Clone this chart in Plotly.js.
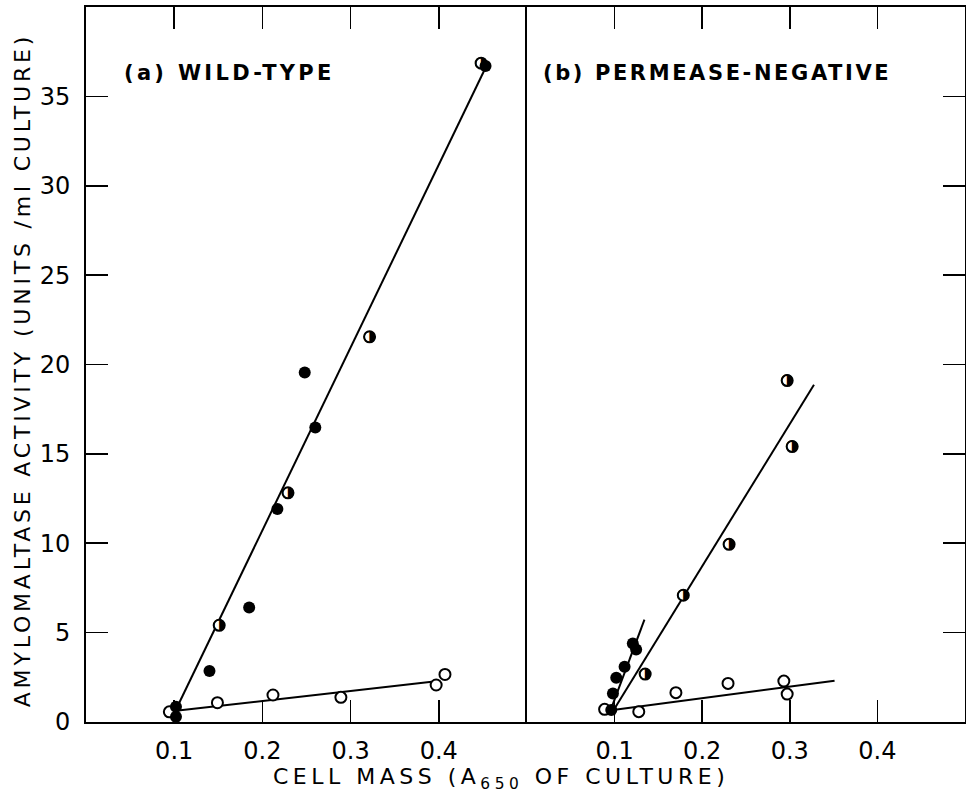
<!DOCTYPE html>
<html><head><meta charset="utf-8">
<script src="https://cdn.plot.ly/plotly-3.0.1.min.js"></script>
<style>html,body{margin:0;padding:0;background:#fff}#chart{width:966px;height:793px}</style>
</head><body><div id="chart"></div>
<script>
// ---- (a) wild-type ----
const wtFilledX = [0.102, 0.102, 0.140, 0.185, 0.217, 0.248, 0.260, 0.453];
const wtFilledY = [0.85, 0.30, 2.85, 6.40, 11.92, 19.55, 16.48, 36.7];
const wtHalfX = [0.151, 0.229, 0.3215, 0.448];
const wtHalfY = [5.41, 12.82, 21.55, 36.86];
const wtOpenX = [0.0945, 0.149, 0.212, 0.289, 0.397, 0.407];
const wtOpenY = [0.57, 1.08, 1.51, 1.38, 2.07, 2.66];
const wtSteepFitX = [0.103, 0.453];
const wtSteepFitY = [0.8, 36.6];
const wtFlatFitX = [0.102, 0.392];
const wtFlatFitY = [0.63, 2.25];
// ---- (b) permease-negative ----
const pnFilledX = [0.0962, 0.0981, 0.1019, 0.1114, 0.1208, 0.1246];
const pnFilledY = [0.67, 1.60, 2.47, 3.09, 4.39, 4.06];
const pnHalfX = [0.1349, 0.1784, 0.2307, 0.297, 0.3027];
const pnHalfY = [2.68, 7.09, 9.94, 19.1, 15.41];
const pnOpenX = [0.0886, 0.1276, 0.170, 0.2295, 0.2932, 0.297];
const pnOpenY = [0.71, 0.58, 1.64, 2.16, 2.29, 1.56];
const pnFilledFitX = [0.0962, 0.1341];
const pnFilledFitY = [0.76, 5.73];
const pnHalfFitX = [0.100, 0.3276];
const pnHalfFitY = [0.76, 18.87];
const pnFlatFitX = [0.0981, 0.3511];
const pnFlatFitY = [0.67, 2.31];
// ---- axes ----
const xTicks = [0.1, 0.2, 0.3, 0.4];
const xTickText = ['0.1', '0.2', '0.3', '0.4'];
const yTicks = [0, 5, 10, 15, 20, 25, 30, 35];
const yTickText = ['0', '5', '10', '15', '20', '25', '30', '35'];
const xTitle = 'CELL MASS (A<sub>650</sub> OF CULTURE)';
const yTitle = 'AMYLOMALTASE ACTIVITY (UNITS /ml CULTURE)';
const panelA = '(a) WILD-TYPE';
const panelB = '(b) PERMEASE-NEGATIVE';

const FONT = 'DejaVu Sans, sans-serif';
function lineTrace(x, y, xa, ya) {
  return {x, y, xaxis: xa, yaxis: ya, mode: 'lines', line: {color: '#000', width: 2}, hoverinfo: 'skip'};
}
function openTrace(x, y, xa, ya) {
  return {x, y, xaxis: xa, yaxis: ya, mode: 'markers',
    marker: {symbol: 'circle', size: 11, color: '#fff', line: {color: '#000', width: 2}}};
}
function filledTrace(x, y, xa, ya) {
  return {x, y, xaxis: xa, yaxis: ya, mode: 'markers',
    marker: {symbol: 'circle', size: 12, color: '#000', line: {color: '#000', width: 0}}};
}
function halfTrace(x, y, xa, ya) {
  return [
    {x, y, xaxis: xa, yaxis: ya, mode: 'markers',
      marker: {symbol: 'circle', size: 11, color: '#fff', line: {color: '#000', width: 2}}},
    {x, y, xaxis: xa, yaxis: ya, mode: 'text', text: x.map(() => '\u25D1'),
      textposition: 'middle center', textfont: {family: FONT, size: 15, color: '#000'}}
  ];
}
const data = [
  lineTrace(wtSteepFitX, wtSteepFitY, 'x', 'y'),
  lineTrace(wtFlatFitX, wtFlatFitY, 'x', 'y'),
  openTrace(wtOpenX, wtOpenY, 'x', 'y'),
  ...halfTrace(wtHalfX, wtHalfY, 'x', 'y'),
  filledTrace(wtFilledX, wtFilledY, 'x', 'y'),
  lineTrace(pnFilledFitX, pnFilledFitY, 'x2', 'y2'),
  lineTrace(pnHalfFitX, pnHalfFitY, 'x2', 'y2'),
  lineTrace(pnFlatFitX, pnFlatFitY, 'x2', 'y2'),
  openTrace(pnOpenX, pnOpenY, 'x2', 'y2'),
  ...halfTrace(pnHalfX, pnHalfY, 'x2', 'y2'),
  filledTrace(pnFilledX, pnFilledY, 'x2', 'y2')
];
const split = 0.5017;
const xCommon = {range: [0, 0.5], tickvals: xTicks, ticktext: xTickText, ticks: 'inside', ticklen: 22,
  tickwidth: 1.6, tickcolor: '#000', showline: true, linecolor: '#000', linewidth: 2, mirror: 'ticks',
  showgrid: false, zeroline: false, ticklabelstandoff: 6, tickfont: {family: FONT, size: 24, color: '#000'}};
const yCommon = {range: [0, 40], tickvals: yTicks, ticktext: yTickText, ticks: 'inside', ticklen: 22,
  tickwidth: 1.6, tickcolor: '#000', showline: true, linecolor: '#000', linewidth: 2,
  showgrid: false, zeroline: false, tickfont: {family: FONT, size: 24, color: '#000'}};
const layout = {
  width: 966, height: 793, showlegend: false,
  paper_bgcolor: '#fff', plot_bgcolor: '#fff',
  margin: {l: 86, r: 1, t: 7, b: 71},
  xaxis: Object.assign({}, xCommon, {domain: [0, split], anchor: 'y'}),
  xaxis2: Object.assign({}, xCommon, {domain: [split, 1], anchor: 'y2'}),
  yaxis: Object.assign({}, yCommon, {anchor: 'x', side: 'left', mirror: false, ticklabelstandoff: 9}),
  yaxis2: Object.assign({}, yCommon, {anchor: 'x2', side: 'right', mirror: true, showticklabels: false}),
  annotations: [
    {xref: 'paper', yref: 'paper', x: 0.472, y: -0.056, xanchor: 'center', yanchor: 'top', showarrow: false,
      text: '<span style="letter-spacing:4.5px">' + xTitle + '</span>', font: {family: FONT, size: 22, color: '#000'}},
    {xref: 'paper', yref: 'paper', x: -0.0728, y: 0.492, xanchor: 'center', yanchor: 'middle', showarrow: false,
      textangle: -90, text: '<span style="letter-spacing:3.8px">' + yTitle + '</span>', font: {family: FONT, size: 22, color: '#000'}},
    {xref: 'paper', yref: 'paper', x: 0.1627, y: 0.9077, xanchor: 'center', yanchor: 'middle', showarrow: false,
      text: '<span style="letter-spacing:3.3px">' + panelA + '</span>', font: {family: FONT, size: 21, color: '#000', weight: 'bold'}},
    {xref: 'paper', yref: 'paper', x: 0.7173, y: 0.9077, xanchor: 'center', yanchor: 'middle', showarrow: false,
      text: '<span style="letter-spacing:2.6px">' + panelB + '</span>', font: {family: FONT, size: 21, color: '#000', weight: 'bold'}}
  ]
};
Plotly.newPlot('chart', data, layout, {displayModeBar: false, staticPlot: true});
</script>
</body></html>
